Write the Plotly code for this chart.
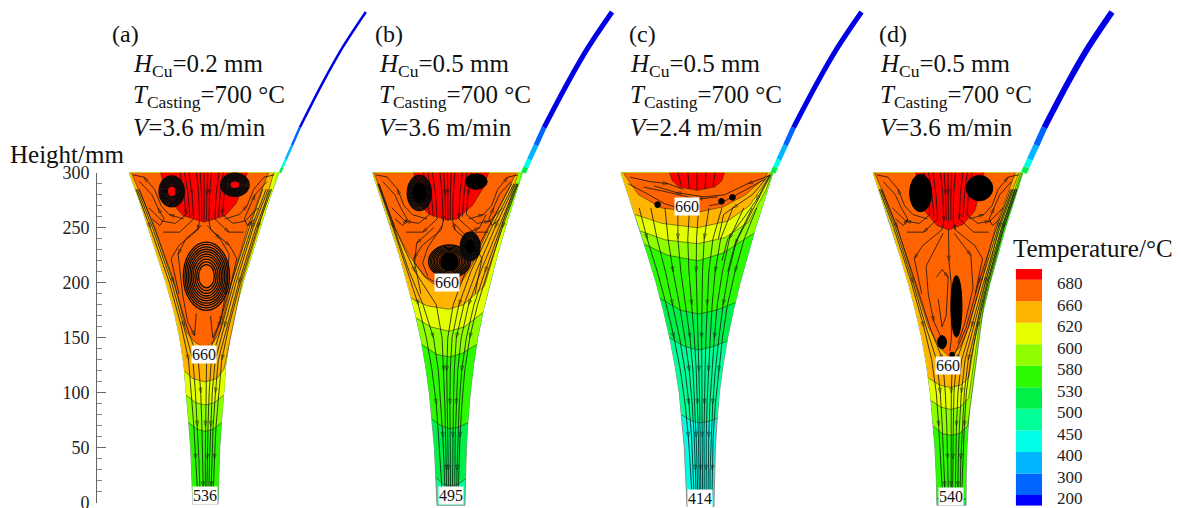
import numpy as np
import plotly.graph_objects as go

# ---------- legend ----------
TEMP_LABELS = ["200", "300", "400", "450", "500", "530", "580", "600", "620", "660", "680"]
BAND_COLORS = ["#0000ff", "#0064ff", "#00b4ff", "#00ffe6", "#00ff96", "#00f048",
               "#2dfa00", "#8fff00", "#e6ff00", "#ffb400", "#ff6400", "#ff0000"]
COLOR_ABOVE = dict(zip([int(v) for v in TEMP_LABELS], BAND_COLORS[1:]))

# ---------- funnel walls (mm) ----------
WALL_H = [300, 275, 250, 225, 200, 175, 150, 125, 100, 75, 50, 25, 0]
HALF_WIDTH = {
    "a": [68, 59, 51, 43, 35, 28, 22.7, 19, 17.3, 15, 13.2, 12.3, 11.4],
    "b": [68, 60, 52, 44.5, 37.7, 31.3, 25.9, 21.8, 18.6, 16.3, 14.5, 13.6, 12.7],
    "c": [69, 61, 52.7, 45.4, 38.1, 31.8, 26.3, 21.8, 18.2, 15.9, 14.1, 13.2, 12.3],
    "d": [68, 60, 51.8, 44.5, 37.2, 30.9, 25.4, 21.3, 18.2, 16.3, 14.5, 13.6, 13.2],
}
CENTER_TOP = {"a": 185.3, "b": 406.4, "c": 633.0, "d": 861.0}
CENTER_BOT = {"a": 186.6, "b": 409.6, "c": 636.2, "d": 864.2}
BOTTOM = {"a": -1, "b": -2, "c": -3, "d": -2}
BASE_TEMP = {"a": 500, "b": 450, "c": 400, "d": 500}

# ---------- isotherms: (fraction of half width, height mm) ----------
ISO_A = {
    530: [(-1, 3), (0, 0), (1, 3)],
    580: [(-1, 73), (-.5, 67), (0, 65), (.5, 67), (1, 73)],
    600: [(-1, 98), (-.5, 91), (0, 89), (.5, 91), (1, 98)],
    620: [(-1, 120), (-.6, 113), (0, 110), (.6, 113), (.93, 122), (.97, 200), (.97, 250), (.93, 300)],
    660: [(-.97, 300), (-.88, 250), (-.78, 200), (-.7, 155), (-.4, 146), (0, 141), (.35, 146),
          (.58, 155), (.7, 200), (.77, 250), (.86, 300)],
    680: [(-.58, 300), (-.57, 285), (-.5, 272), (-.35, 261), (0, 255), (.35, 261), (.5, 272), (.55, 285), (.58, 300)],
}
ISO_B = {
    500: [(-1, 23), (-.5, 17), (0, 15), (.5, 17), (1, 22)],
    530: [(-1, 76), (-.5, 70), (0, 67.5), (.5, 69), (1, 73)],
    580: [(-1, 144), (-.5, 135), (0, 132.6), (.5, 136), (1, 144)],
    600: [(-1, 168), (-.6, 160), (0, 156), (.5, 160), (1, 173)],
    620: [(-1, 186), (-.6, 179), (0, 176), (.4, 180), (.7, 190), (.88, 197), (.92, 220), (.93, 250), (.95, 300)],
    660: [(-.98, 300), (-.93, 250), (-.8, 225), (-.55, 205), (-.3, 197), (0, 195), (.3, 200),
          (.5, 215), (.72, 250), (.85, 280), (.92, 300)],
    680: [(-.45, 300), (-.45, 272), (-.3, 262), (0, 257), (.15, 258), (.38, 270), (.5, 285), (.55, 300)],
}
ISO_C = {
    450: [(-1, 80), (-.5, 75), (0, 72.7), (.5, 74), (1, 77)],
    500: [(-1, 150), (-.5, 142), (0, 139), (.5, 142), (1, 147)],
    530: [(-1, 186), (-.5, 175), (0, 171.7), (.5, 175), (1, 182)],
    580: [(-1, 235), (-.6, 225), (0, 220), (.5, 227), (1, 245)],
    600: [(-1, 247), (-.6, 239), (0, 235.5), (.5, 241), (.85, 255), (.98, 285), (.99, 300)],
    620: [(-1, 262), (-.6, 254), (0, 250), (.5, 256), (.8, 270), (.96, 295), (.97, 300)],
    660: [(-.97, 300), (-.85, 280), (-.55, 268), (0, 264), (.4, 269), (.7, 280), (.92, 296), (.93, 300)],
    680: [(-.36, 300), (-.34, 293), (-.25, 287), (0, 284), (.25, 287), (.34, 293), (.36, 300)],
}
ISO_D = {
    530: [(-1, 4), (0, 1), (1, 4)],
    580: [(-1, 70), (-.5, 63), (0, 61.5), (.5, 63), (.97, 70), (.97, 180), (.97, 250), (.99, 300)],
    600: [(-1, 93), (-.5, 87), (0, 85), (.5, 87), (.93, 95), (.93, 180), (.93, 250), (.97, 300)],
    620: [(-1, 113.5), (-.5, 107), (0, 105), (.5, 107), (.85, 114), (.88, 180), (.88, 250), (.95, 300)],
    660: [(-.98, 300), (-.9, 250), (-.85, 200), (-.7, 160), (-.4, 142), (0, 132), (.4, 142),
          (.63, 160), (.78, 200), (.82, 250), (.9, 300)],
    680: [(-.43, 300), (-.44, 280), (-.38, 265), (-.2, 252), (0, 248), (.25, 253), (.42, 265), (.47, 285), (.48, 300)],
}
ISOTHERMS = {"a": ISO_A, "b": ISO_B, "c": ISO_C, "d": ISO_D}

# small wall slivers at the top right of the funnels: (temperature, outline)
SLIVERS = {
    "a": [(580, [(1, 285), (.97, 300), (1, 300)])],
    "b": [(580, [(1, 240), (.96, 285), (.95, 300), (1, 300)]),
          (530, [(1, 285), (.985, 300), (1, 300)])],
    "c": [(500, [(1, 290), (.985, 300), (1, 300)])],
    "d": [(530, [(1, 270), (.995, 300), (1, 300)])],
}

# ---------- streamlines ----------
DOWN_H_AD = [285, 250, 200, 160, 130, 100, 70, 40, 15, 2]
DOWN_A = [
    [.90, .84, .76, .62, .30, .22, .18, .14, .10, .10],
    [.93, .87, .82, .72, .48, .38, .35, .30, .27, .25],
    [.96, .92, .89, .82, .62, .55, .50, .48, .45, .42],
    [.98, .95, .93, .88, .78, .72, .68, .65, .62, .60],
    [-.97, -.92, -.85, -.75, -.55, -.50, -.48, -.45, -.42, -.38],
    [-.94, -.89, -.80, -.65, -.30, -.22, -.20, -.20, -.18, -.15],
    [-.99, -.96, -.91, -.85, -.75, -.72, -.70, -.68, -.62, -.58],
    [.85, .80, .70, .50, .08, .05, .02, .0, .0, .0],
]
DOWN_D = [
    [.92, .87, .78, .62, .28, .18, .15, .12, .10, .08],
    [.94, .90, .84, .72, .48, .38, .33, .30, .28, .25],
    [.96, .93, .88, .80, .62, .55, .50, .47, .44, .42],
    [.97, .95, .92, .87, .75, .70, .66, .63, .60, .58],
    [.99, .97, .95, .92, .85, .80, .78, .75, .72, .70],
    [-.97, -.93, -.88, -.78, -.55, -.50, -.48, -.46, -.44, -.42],
    [-.95, -.90, -.82, -.65, -.30, -.25, -.22, -.22, -.20, -.20],
    [-.99, -.96, -.92, -.85, -.75, -.70, -.68, -.65, -.62, -.60],
    [.90, .84, .72, .55, .10, .05, .03, .0, -.02, -.02],
]
DOWN_H_B = [290, 250, 210, 180, 150, 120, 90, 60, 30, 5]
DOWN_B = [
    [.95, .82, .62, .42, .25, .20, .18, .15, .12, .10],
    [.97, .88, .72, .55, .42, .35, .32, .30, .28, .26],
    [.98, .92, .82, .70, .60, .52, .48, .45, .42, .40],
    [.99, .95, .88, .80, .72, .65, .62, .58, .55, .50],
    [.93, .76, .50, .28, .10, .03, .0, .0, -.02, -.02],
    [.90, .70, .38, .12, -.05, -.12, -.14, -.15, -.15, -.15],
    [-.97, -.95, -.88, -.72, -.55, -.48, -.46, -.44, -.42, -.40],
    [-.98, -.96, -.92, -.85, -.80, -.75, -.70, -.68, -.65, -.60],
    [-.96, -.93, -.75, -.35, -.25, -.25, -.26, -.28, -.28, -.28],
]
DOWN_H_C = [268, 240, 210, 180, 150, 120, 90, 60, 30, 5]
DOWN_C = [
    [-.90, -.92, -.90, -.88, -.85, -.80, -.75, -.70, -.65, -.60],
    [-.72, -.74, -.72, -.70, -.66, -.60, -.55, -.50, -.48, -.45],
    [-.50, -.54, -.55, -.52, -.48, -.42, -.38, -.34, -.32, -.30],
    [-.30, -.36, -.38, -.35, -.30, -.26, -.24, -.22, -.20, -.18],
    [-.12, -.18, -.20, -.18, -.15, -.12, -.10, -.08, -.08, -.06],
    [.02, -.02, -.04, -.03, -.02, .0, .02, .02, .04, .04],
    [.18, .12, .10, .10, .10, .12, .14, .14, .14, .16],
    [.38, .28, .24, .24, .25, .26, .26, .26, .28, .28],
    [.55, .42, .38, .38, .40, .40, .40, .40, .40, .42],
    [.72, .58, .54, .52, .54, .55, .55, .55, .55, .56],
    [.85, .72, .68, .68, .70, .70, .70, .70, .68, .70],
    [.92, .85, .82, .80, .82, .84, .84, .82, .82, .84],
]
DOWN_LINES = {"a": (DOWN_H_AD, DOWN_A), "b": (DOWN_H_B, DOWN_B),
              "c": (DOWN_H_C, DOWN_C), "d": (DOWN_H_AD, DOWN_D)}

PLUME = [
    [(-.32, 300), (-.30, 280), (-.30, 262), (-.50, 254), (-.72, 256), (-.88, 268)],
    [(-.20, 300), (-.18, 280), (-.18, 258), (-.45, 246), (-.75, 246)],
    [(-.10, 300), (-.08, 280), (-.08, 256), (-.12, 248), (-.50, 234), (-.72, 222), (-.72, 190)],
    [(0, 300), (0, 280), (0, 256)],
    [(.10, 300), (.08, 280), (.08, 256), (.12, 248), (.50, 234), (.70, 222), (.68, 190)],
    [(.20, 300), (.18, 280), (.18, 258), (.45, 246), (.72, 246)],
    [(.32, 300), (.30, 280), (.30, 262), (.50, 254), (.70, 256), (.86, 268)],
    [(-.35, 258), (-.58, 262), (-.68, 270), (-.72, 285), (-.82, 296), (-.96, 298)],
    [(-.88, 258), (-.78, 252), (-.68, 258), (-.74, 268), (-.78, 280), (-.90, 292)],
    [(.35, 258), (.58, 262), (.68, 270), (.72, 285), (.82, 296), (.95, 298)],
    [(.86, 258), (.76, 252), (.68, 258), (.72, 268), (.76, 280), (.88, 292)],
    [(-.26, 300), (-.24, 280), (-.24, 260)],
    [(-.05, 300), (-.04, 280), (-.04, 257)],
    [(.05, 300), (.04, 280), (.04, 257)],
    [(.26, 300), (.24, 280), (.24, 260)],
]
WEDGE_A = [
    [(-.05, 252), (-.35, 240), (-.55, 226), (-.62, 190), (-.60, 165), (-.40, 152), (-.28, 172)],
    [(.05, 252), (.30, 240), (.52, 226), (.60, 190), (.55, 165), (.32, 150), (.20, 170)],
]
WEDGE_B = [
    [(-.25, 250), (-.60, 236), (-.72, 218), (-.55, 206), (-.30, 200)],
    [(-.10, 252), (-.40, 232), (-.55, 218), (-.48, 206)],
    [(.10, 254), (.30, 244), (.55, 250), (.62, 262)],
]
WEDGE_D = [
    [(0, 248), (.0, 220), (.05, 200), (.06, 150), (.0, 138)],
    [(-.10, 245), (-.50, 215), (-.55, 190), (-.50, 165), (-.30, 150)],
    [(-.30, 205), (-.15, 212), (-.02, 205), (-.10, 170), (-.25, 160), (-.30, 185)],
    [(.10, 245), (.45, 225), (.60, 195), (.50, 165), (.30, 145)],
]
TOP_C = [
    [(.95, 297), (.70, 290), (.40, 280), (.10, 278), (-.30, 282), (-.60, 288)],
    [(.92, 294), (.65, 283), (.35, 272), (.18, 270)],
    [(-.90, 296), (-.65, 292), (-.40, 290), (-.20, 285)],
    [(.30, 278), (.0, 276), (-.40, 282), (-.75, 287)],
    [(-.30, 268), (-.50, 272), (-.70, 280), (-.95, 290)],
    [(.96, 298), (.80, 280), (.55, 268), (.42, 262), (.38, 240)],
    [(.97, 298), (.88, 275), (.72, 255), (.55, 240), (.50, 220)],
    [(.98, 298), (.92, 280), (.82, 255), (.70, 235), (.66, 210)],
    [(-.25, 300), (-.22, 288)], [(-.12, 300), (-.11, 285)], [(0, 300), (0, 284)],
    [(.12, 300), (.11, 285)], [(.24, 300), (.22, 288)],
]
CURVES = {"a": PLUME + WEDGE_A, "b": PLUME + WEDGE_B, "c": TOP_C, "d": PLUME + WEDGE_D}

# vortices: (offset from centre mm, height mm, x radius mm, y radius mm, solid)
VORTEX_A = [(-29.4, 283, 11.5, 14, False), (28, 289, 13, 10.5, False), (1.8, 206, 21, 31, False)]
VORTEX_B = [(-25.7, 281.5, 11, 16, False), (-25.7, 281.5, 6, 9, True), (26, 292, 10, 7, True),
            (20, 233, 9, 13, False), (20, 233, 4, 6, True), (1, 219.5, 19, 15, False), (1, 219, 8, 8, True)]
VORTEX_C = [(-36, 271, 2.6, 2.6, True), (22, 274, 2.6, 2.6, True), (32, 277.6, 2.6, 2.6, True)]
VORTEX_D = [(-25, 281.5, 10, 17, True), (28.5, 286, 12, 11.5, True), (6.4, 178.6, 5, 28, True),
            (-7, 146, 4, 6, True), (2, 134.7, 2.2, 2.2, True)]
VORTICES = {"a": VORTEX_A, "b": VORTEX_B, "c": VORTEX_C, "d": VORTEX_D}
RING_SCALES = [1, .93, .86, .79, .72, .65, .58, .5, .42, .34]

# feeding strip above the funnels: offset from centre (mm) against height (mm)
STRIP_H = [300, 341, 382, 414, 446]
STRIP_OFFSET = [69, 87, 108, 126, 147]
STRIP_SHIFT = {"a": 0, "b": 2.5, "c": 2.5, "d": 2}
STRIP_WIDTH = {"a": 2.5, "b": 5, "c": 5, "d": 6}
STRIP_BANDS = [(500, 300, 305), (400, 305, 312), (300, 312, 325), (200, 325, 341)]

# ---------- texts ----------
PANEL_TAGS = ["(a)", "(b)", "(c)", "(d)"]
H_CU = ["0.2", "0.5", "0.5", "0.5"]
T_CAST = ["700", "700", "700", "700"]
SPEED = ["3.6", "3.6", "2.4", "3.6"]
MID_LABEL = {"a": ("660", 135), "b": ("660", 200), "c": ("660", 269), "d": ("660", 125)}
MID_OFFSET = {"a": -1.0, "b": -1.5, "c": -9, "d": -1.5}
BOTTOM_LABEL = {"a": "536", "b": "495", "c": "414", "d": "540"}
BOTTOM_H = {"a": 6.5, "b": 6.5, "c": 4, "d": 5.5}
Y_TICKS = [0, 50, 100, 150, 200, 250, 300]

# ---------- layout constants ----------
W, H = 1181, 508
PX_PER_MM = 1.101
ZERO_PX = 503
SERIF = "Liberation Serif, Times New Roman, serif"
fig = go.Figure()
shapes, annotations = [], []


def center(p, y):
    return CENTER_BOT[p] + (CENTER_TOP[p] - CENTER_BOT[p]) * (y / 300.0)


def half(p, y):
    return np.interp(y, WALL_H[::-1], HALF_WIDTH[p][::-1])


def to_xy(p, pts):
    xs = [center(p, y) + t * half(p, y) for t, y in pts]
    ys = [y for _, y in pts]
    return xs, ys


def region(p, contour):
    """contour + walls up to the top of the funnel"""
    left_t, left_y = contour[0]
    right_t, right_y = contour[-1]
    right = [(right_t, h) for h in WALL_H[::-1] if h > right_y]
    left = [(left_t, h) for h in WALL_H if h > left_y]
    return to_xy(p, list(contour) + right + left)


for p in "abcd":
    # base fill : full funnel
    wall = [(-1, h) for h in WALL_H] + [(-1, BOTTOM[p]), (1, BOTTOM[p])] + [(1, h) for h in WALL_H[::-1]]
    xs, ys = to_xy(p, wall)
    fig.add_trace(go.Scatter(x=xs, y=ys, fill="toself", mode="lines", fillcolor=COLOR_ABOVE[BASE_TEMP[p]],
                             line=dict(color="#8a8a8a", width=1), hoverinfo="skip", showlegend=False))
    for temp in sorted(ISOTHERMS[p]):
        contour = ISOTHERMS[p][temp]
        xs, ys = region(p, contour)
        fig.add_trace(go.Scatter(x=xs, y=ys, fill="toself", mode="none", fillcolor=COLOR_ABOVE[temp],
                                 hoverinfo="skip", showlegend=False))
        xs, ys = to_xy(p, contour)
        fig.add_trace(go.Scatter(x=xs, y=ys, mode="lines", line=dict(color="rgba(30,30,0,0.65)", width=0.8),
                                 hoverinfo="skip", showlegend=False))
    for temp, outline in SLIVERS[p]:
        xs, ys = to_xy(p, outline)
        fig.add_trace(go.Scatter(x=xs, y=ys, fill="toself", mode="none", fillcolor=COLOR_ABOVE[temp],
                                 hoverinfo="skip", showlegend=False))

    # strip
    xs = [center(p, 300) + o + STRIP_SHIFT[p] * (h - 300) / 146 for o, h in zip(STRIP_OFFSET, STRIP_H)]
    fig.add_trace(go.Scatter(x=xs[1:], y=STRIP_H[1:], mode="lines",
                             line=dict(color="#0000e6", width=STRIP_WIDTH[p], shape="spline"),
                             hoverinfo="skip", showlegend=False))
    for temp, y0, y1 in STRIP_BANDS:
        fig.add_trace(go.Scatter(x=list(np.interp([y0, y1], STRIP_H, xs)), y=[y0, y1], mode="lines",
                                 line=dict(color=COLOR_ABOVE[temp], width=STRIP_WIDTH[p]),
                                 hoverinfo="skip", showlegend=False))

    # streamlines
    heights, rows = DOWN_LINES[p]
    lines = [list(zip(row, heights)) for row in rows] + CURVES[p]
    for k, ln in enumerate(lines):
        xs, ys = to_xy(p, ln)
        sizes = [5 if ((i + k) % 3 == 1 and 0 < i < len(ln) - 1) else 0 for i in range(len(ln))]
        fig.add_trace(go.Scatter(x=xs, y=ys, mode="lines+markers",
                                 line=dict(color="#141414", width=0.8),
                                 marker=dict(symbol="arrow-open", size=sizes, angleref="previous",
                                             color="#141414", line=dict(color="#141414", width=0.7)),
                                 hoverinfo="skip", showlegend=False))

    # vortices
    for dx, y, rx, ry, solid in VORTICES[p]:
        cx = center(p, y) + dx
        if solid:
            shapes.append(dict(type="circle", xref="x", yref="y", x0=cx - rx, x1=cx + rx, y0=y - ry, y1=y + ry,
                               fillcolor="#000000", line=dict(color="#000000", width=1)))
        else:
            for s in RING_SCALES:
                shapes.append(dict(type="circle", xref="x", yref="y", x0=cx - rx * s, x1=cx + rx * s,
                                   y0=y - ry * s, y1=y + ry * s, line=dict(color="#0a0a0a", width=1.3)))

    # labels in boxes
    txt, yy = MID_LABEL[p]
    annotations.append(dict(x=center(p, yy) + MID_OFFSET[p], y=yy, xref="x", yref="y", text=txt, showarrow=False,
                            bgcolor="white", borderpad=0, font=dict(family=SERIF, size=16, color="#111")))
    annotations.append(dict(x=center(p, 0), y=BOTTOM_H[p], xref="x", yref="y", text=BOTTOM_LABEL[p], showarrow=False,
                            bgcolor="white", borderpad=0, font=dict(family=SERIF, size=16, color="#111")))

# hidden helper that carries the visible height axis
fig.add_trace(go.Scatter(x=[96 / PX_PER_MM] * 2, y=[Y_TICKS[0], Y_TICKS[-1]], yaxis="y3", mode="markers",
                         marker=dict(size=1, opacity=0), hoverinfo="skip", showlegend=False))

# temperature scale
edges = [-0.5] + list(range(0, len(TEMP_LABELS))) + [len(TEMP_LABELS) - 0.5]
fig.add_trace(go.Bar(x=[1] * len(BAND_COLORS), y=np.diff(edges), base=edges[:-1], width=1,
                     marker=dict(color=BAND_COLORS, line=dict(width=0)),
                     xaxis="x2", yaxis="y2", hoverinfo="skip", showlegend=False))


def text(px, py, s, size):
    annotations.append(dict(x=px / W, y=1 - py / H, xref="paper", yref="paper", text=s, showarrow=False,
                            xanchor="left", yanchor="middle", align="left",
                            font=dict(family=SERIF, size=size, color="#111")))


TAG_X = [110, 373, 627, 877]
LINE_X = [131, 377, 628, 878]
for i in range(4):
    text(TAG_X[i], 34, PANEL_TAGS[i], 24)
    text(LINE_X[i], 65, f"<i>H</i><sub>Cu</sub>={H_CU[i]} mm", 25)
    text(LINE_X[i], 96, f"<i>T</i><sub>Casting</sub>={T_CAST[i]} °C", 25)
    text(LINE_X[i], 127, f"<i>V</i>={SPEED[i]} m/min", 25)
text(8, 154, "Height/mm", 25)
text(1011, 248, "Temperature/°C", 25)

fig.update_layout(
    width=W, height=H, margin=dict(l=0, r=0, t=0, b=0, autoexpand=False),
    paper_bgcolor="white", plot_bgcolor="rgba(0,0,0,0)",
    barmode="overlay", showlegend=False, shapes=shapes, annotations=annotations,
    xaxis=dict(range=[0, W / PX_PER_MM], visible=False, domain=[0, 1], fixedrange=True),
    yaxis=dict(range=[(ZERO_PX - H) / PX_PER_MM, ZERO_PX / PX_PER_MM], visible=False, domain=[0, 1], fixedrange=True),
    yaxis3=dict(
        domain=[(H - ZERO_PX) / H, (H - (ZERO_PX - 300 * PX_PER_MM)) / H], range=[0, 300], anchor="free",
        position=96 / W, side="left", showgrid=False, zeroline=False, showline=True,
        linecolor="#666", linewidth=1, ticks="inside", ticklen=9, tickcolor="#666", tickwidth=1,
        tickvals=Y_TICKS, ticktext=[str(v) for v in Y_TICKS], ticklabeloverflow="allow",
        minor=dict(dtick=10, ticks="inside", ticklen=5, tickcolor="#888", tickwidth=1),
        tickfont=dict(family=SERIF, size=18, color="#222"), ticklabelstandoff=3,
    ),
    xaxis2=dict(domain=[1015.7 / W, 1042 / W], range=[0.5, 1.5], visible=False, anchor="y2"),
    yaxis2=dict(
        domain=[(H - 505.7) / H, (H - 269) / H], range=[-0.5, len(TEMP_LABELS) - 0.5], anchor="x2", side="right",
        showgrid=False, zeroline=False, showline=False, ticks="", tickmode="array", ticklabeloverflow="allow",
        tickvals=[i - 0.16 for i in range(len(TEMP_LABELS))], ticktext=TEMP_LABELS,
        tickfont=dict(family=SERIF, size=17, color="#222"), ticklabelstandoff=14,
    ),
)

fig.write_html("out.html", config={"displayModeBar": False},
               post_script="document.body.style.margin='0';document.body.style.overflow='hidden';")
